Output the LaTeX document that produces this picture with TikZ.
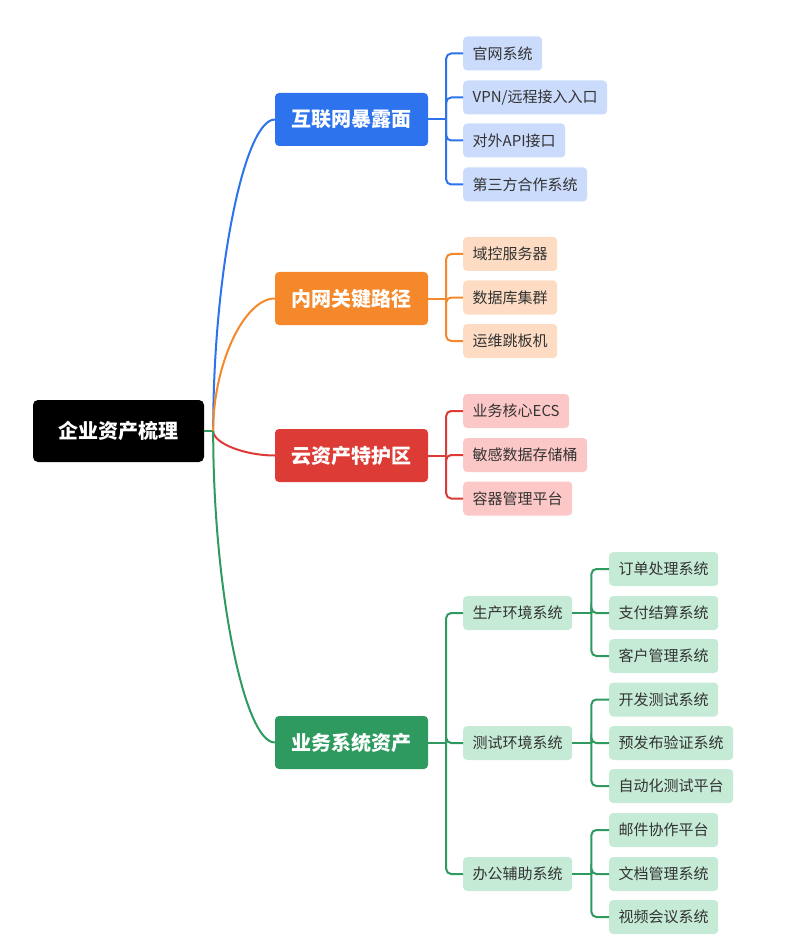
\documentclass[tikz,border=0pt]{standalone}
\usepackage{fontspec}
\setmainfont{Noto Sans CJK SC}
\usetikzlibrary{positioning}

\definecolor{netblue}{HTML}{2D73EE}
\definecolor{netlight}{HTML}{CADBFB}
\definecolor{lanorange}{HTML}{F5882A}
\definecolor{lanlight}{HTML}{FDDCC3}
\definecolor{cloudred}{HTML}{DD3C36}
\definecolor{cloudlight}{HTML}{FCC8C7}
\definecolor{bizgreen}{HTML}{2E9A5F}
\definecolor{bizlight}{HTML}{C5EAD5}
\definecolor{leaftext}{HTML}{333333}

\begin{document}
\begin{tikzpicture}[x=1pt,y=-1pt]

\tikzset{root/.style = {shape=rectangle, rounded corners=5pt, fill=black, text=white, minimum width=171pt, minimum height=62pt, font=\fontsize{20}{24}\selectfont\bfseries}}
\tikzset{topic/.style = {shape=rectangle, rounded corners=4pt, text=white, minimum width=153pt, minimum height=53pt, inner sep=0pt, font=\fontsize{20}{24}\selectfont\bfseries}}
\tikzset{leaf/.style = {shape=rectangle, rounded corners=4pt, text=leaftext, anchor=west, minimum height=34pt, inner xsep=9.5pt, inner ysep=0pt, font=\fontsize{15}{18}\selectfont}}
\tikzset{link/.style = {line width=2pt}}
\tikzset{elbow/.style = {line width=2pt, rounded corners=5pt}}

\useasboundingbox (0,0) rectangle (799,949);

%root and topics
\node[root] (root) at (118.5,431) {企业资产梳理};
\node[topic, fill=netblue] (net) at (351.5,119.5) {互联网暴露面};
\node[topic, fill=lanorange] (lan) at (351.5,298.5) {内网关键路径};
\node[topic, fill=cloudred] (cloud) at (351.5,455.5) {云资产特护区};
\node[topic, fill=bizgreen] (biz) at (351.5,742.5) {业务系统资产};
%leaves
\node[leaf, fill=netlight] (net1) at (463,53.5) {官网系统};
\node[leaf, fill=netlight] (net2) at (463,97.5) {VPN/远程接入入口};
\node[leaf, fill=netlight] (net3) at (463,140.5) {对外API接口};
\node[leaf, fill=netlight] (net4) at (463,184.5) {第三方合作系统};
\node[leaf, fill=lanlight] (lan1) at (463,254) {域控服务器};
\node[leaf, fill=lanlight] (lan2) at (463,297.5) {数据库集群};
\node[leaf, fill=lanlight] (lan3) at (463,341) {运维跳板机};
\node[leaf, fill=cloudlight] (cloud1) at (463,411) {业务核心ECS};
\node[leaf, fill=cloudlight] (cloud2) at (463,455) {敏感数据存储桶};
\node[leaf, fill=cloudlight] (cloud3) at (463,498.5) {容器管理平台};
\node[leaf, fill=bizlight] (biz1) at (463,613) {生产环境系统};
\node[leaf, fill=bizlight] (biz2) at (463,743) {测试环境系统};
\node[leaf, fill=bizlight] (biz3) at (463,874) {办公辅助系统};
\node[leaf, fill=bizlight] (biz11) at (609,569) {订单处理系统};
\node[leaf, fill=bizlight] (biz12) at (609,613) {支付结算系统};
\node[leaf, fill=bizlight] (biz13) at (609,656) {客户管理系统};
\node[leaf, fill=bizlight] (biz21) at (609,699.5) {开发测试系统};
\node[leaf, fill=bizlight] (biz22) at (609,743) {预发布验证系统};
\node[leaf, fill=bizlight] (biz23) at (609,786) {自动化测试平台};
\node[leaf, fill=bizlight] (biz31) at (609,830) {邮件协作平台};
\node[leaf, fill=bizlight] (biz32) at (609,874) {文档管理系统};
\node[leaf, fill=bizlight] (biz33) at (609,917) {视频会议系统};

%curves from root
\coordinate (hub) at ([xshift=9pt]root.east);
\draw[link, bizgreen] (root.east) -- (hub);
\draw[link, netblue] (hub) .. controls (213,275) and (244,119.5) .. (net.west);
\draw[link, lanorange] (hub) .. controls (213,365) and (244,298.5) .. (lan.west);
\draw[link, cloudred] (hub) .. controls (213,443) and (244,455.5) .. (cloud.west);
\draw[link, bizgreen] (hub) .. controls (213,587) and (244,742.5) .. (biz.west);

%elbows
\coordinate (netj) at ([xshift=18pt]net.east);
\draw[link, netblue] (net.east) -- (netj);
\draw[elbow, netblue] (netj) |- (net1.west);
\draw[elbow, netblue] (netj) |- (net2.west);
\draw[elbow, netblue] (netj) |- (net3.west);
\draw[elbow, netblue] (netj) |- (net4.west);

\coordinate (lanj) at ([xshift=18pt]lan.east);
\draw[link, lanorange] (lan.east) -- (lanj);
\draw[elbow, lanorange] (lanj) |- (lan1.west);
\draw[elbow, lanorange] (lanj) |- (lan2.west);
\draw[elbow, lanorange] (lanj) |- (lan3.west);

\coordinate (cloudj) at ([xshift=18pt]cloud.east);
\draw[link, cloudred] (cloud.east) -- (cloudj);
\draw[elbow, cloudred] (cloudj) |- (cloud1.west);
\draw[elbow, cloudred] (cloudj) |- (cloud2.west);
\draw[elbow, cloudred] (cloudj) |- (cloud3.west);

\coordinate (bizj) at ([xshift=18pt]biz.east);
\draw[link, bizgreen] (biz.east) -- (bizj);
\draw[elbow, bizgreen] (bizj) |- (biz1.west);
\draw[elbow, bizgreen] (bizj) |- (biz2.west);
\draw[elbow, bizgreen] (bizj) |- (biz3.west);

\coordinate (biz1j) at ([xshift=19pt]biz1.east);
\draw[link, bizgreen] (biz1.east) -- (biz1j);
\draw[elbow, bizgreen] (biz1j) |- (biz11.west);
\draw[elbow, bizgreen] (biz1j) |- (biz12.west);
\draw[elbow, bizgreen] (biz1j) |- (biz13.west);

\coordinate (biz2j) at ([xshift=19pt]biz2.east);
\draw[link, bizgreen] (biz2.east) -- (biz2j);
\draw[elbow, bizgreen] (biz2j) |- (biz21.west);
\draw[elbow, bizgreen] (biz2j) |- (biz22.west);
\draw[elbow, bizgreen] (biz2j) |- (biz23.west);

\coordinate (biz3j) at ([xshift=19pt]biz3.east);
\draw[link, bizgreen] (biz3.east) -- (biz3j);
\draw[elbow, bizgreen] (biz3j) |- (biz31.west);
\draw[elbow, bizgreen] (biz3j) |- (biz32.west);
\draw[elbow, bizgreen] (biz3j) |- (biz33.west);

\end{tikzpicture}
\end{document}
